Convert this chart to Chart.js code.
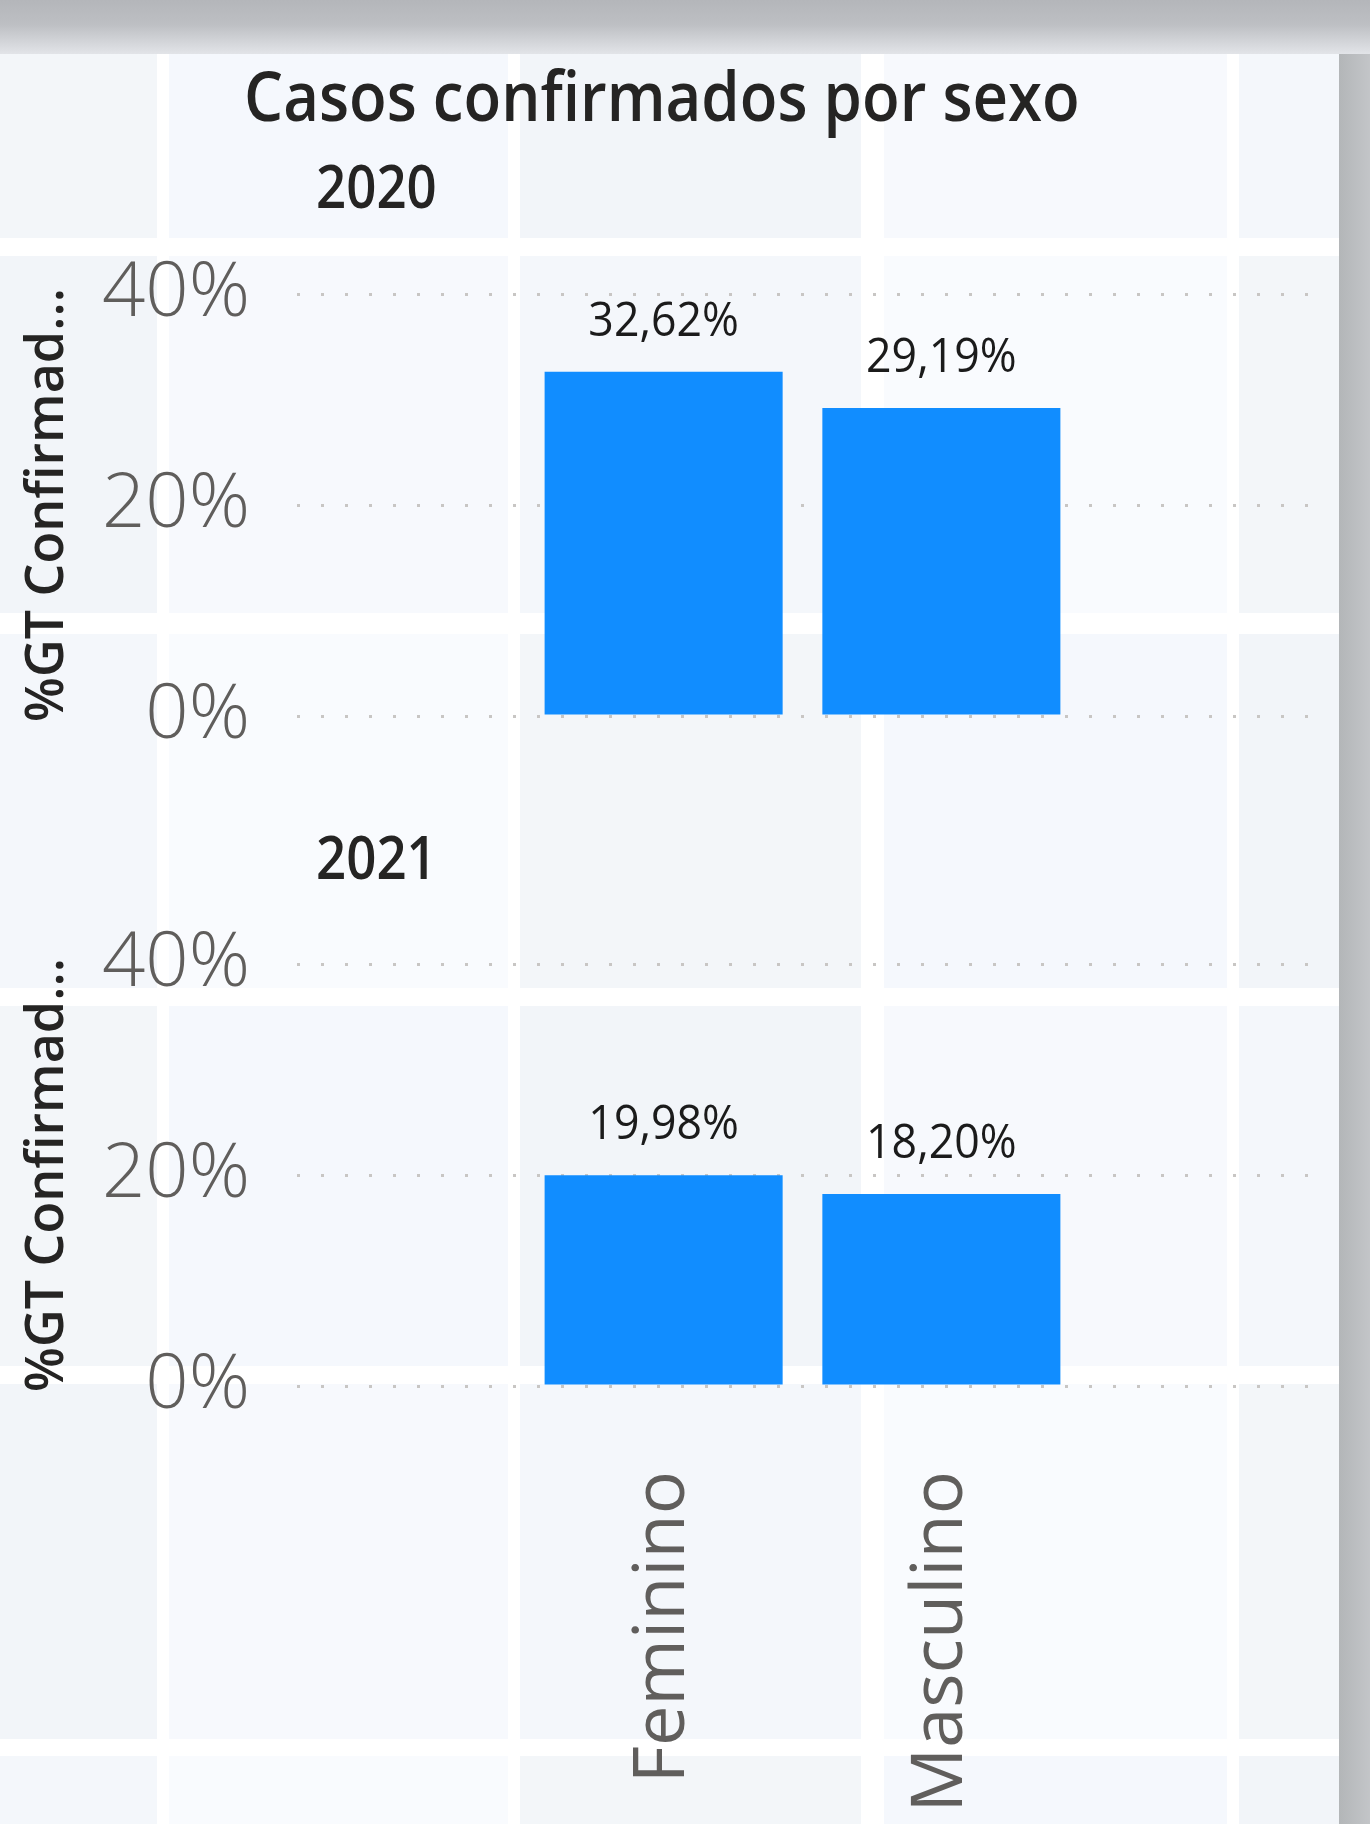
<!DOCTYPE html>
<html>
<head>
<meta charset="utf-8">
<script src="https://cdn.jsdelivr.net/npm/chart.js@4.4.1/dist/chart.umd.min.js"></script>
<style>
  html, body { margin: 0; padding: 0; }
  body { width: 1370px; height: 1824px; position: relative; overflow: hidden; background: #ffffff; font-family: 'Open Sans', sans-serif; }
  .band { position: absolute; left: 0; top: 0; width: 1370px; height: 54px;
          background: linear-gradient(#b4b6ba 0%, #bdbfc3 45%, #e2e4e8 100%); }
  .shadow { position: absolute; left: 1339px; top: 54px; width: 31px; height: 1770px;
            background: linear-gradient(90deg, #b3b6b8, #c3c5c8); }
  .tile { position: absolute; }
  .title { position: absolute; left: 244px; top: 60px; font-family: 'Open Sans', sans-serif; font-weight: 600; font-size: 69px; color: #252423; white-space: nowrap; line-height: 1; transform: scaleX(0.895); transform-origin: 0 0; }
  .year { position: absolute; left: 316px; font-family: 'Open Sans', sans-serif; font-weight: 600; font-size: 60px; color: #252423; line-height: 1; transform: scaleX(0.88); transform-origin: 0 0; }
  .chartbox { position: absolute; left: 0; width: 1339px; }
</style>
</head>
<body>
<div class="band"></div>
<div id="tiles"></div>
<div class="shadow"></div>
<div class="title">Casos confirmados por sexo</div>
<div class="year" style="top:155px">2020</div>
<div class="year" style="top:826px">2021</div>
<div class="chartbox" style="top:194px;height:622px"><canvas id="c2020"></canvas></div>
<div class="chartbox" style="top:864px;height:960px"><canvas id="c2021"></canvas></div>
<script>
// ---- data ----
const categories = ['Feminino', 'Masculino'];
const values2020 = [32.62, 29.19];
const values2021 = [19.98, 18.20];
const yTicks = [0, 20, 40];
const yAxisTitle = '%GT Confirmad...';

// ---- background tiles (decorative) ----
(function () {
  const cols = [[0, 157], [169, 508], [520, 861], [884, 1227], [1239, 1339]];
  const rows = [[54, 238], [256, 613], [634, 988], [1006, 1366], [1384, 1739], [1756, 1824]];
  const palette = ['#f3f6f9', '#f5f8fd', '#f2f5f9', '#f7f9fd', '#f4f7fb', '#f9fbfe'];
  const host = document.getElementById('tiles');
  rows.forEach((r, ri) => cols.forEach((c, ci) => {
    const d = document.createElement('div');
    d.className = 'tile';
    d.style.left = c[0] + 'px'; d.style.top = r[0] + 'px';
    d.style.width = (c[1] - c[0]) + 'px'; d.style.height = (r[1] - r[0]) + 'px';
    d.style.background = palette[(ri * 2 + ci) % palette.length];
    host.appendChild(d);
  }));
})();

const BLUE = '#118DFF';
const TICK_GRAY = '#605E5C';
const GRID_GRAY = '#C8C6C4';

const valueLabels = {
  id: 'valueLabels',
  afterDatasetsDraw(chart) {
    const ctx = chart.ctx;
    const meta = chart.getDatasetMeta(0);
    const ds = chart.data.datasets[0];
    meta.data.forEach((bar, i) => {
      const v = ds.data[i].y;
      const txt = v.toFixed(2).replace('.', ',') + '%';
      ctx.save();
      ctx.font = "400 48px 'Open Sans', sans-serif";
      ctx.fillStyle = '#1b1b1b';
      ctx.textAlign = 'center';
      ctx.textBaseline = 'middle';
      ctx.translate(bar.x, bar.y - 50);
      ctx.scale(0.93, 1);
      ctx.fillText(txt, 0, 0);
      ctx.restore();
    });
  }
};

function makeChart(id, values, showX) {
  return new Chart(document.getElementById(id), {
    type: 'bar',
    data: {
      datasets: [{
        data: categories.map((c, i) => ({ x: i, y: values[i] })),
        backgroundColor: BLUE,
        barPercentage: 0.857,
        categoryPercentage: 1.0,
        borderWidth: 0
      }]
    },
    options: {
      responsive: true,
      maintainAspectRatio: false,
      animation: false,
      layout: { padding: { top: 100, right: 31, bottom: showX ? 0 : 100, left: 0 } },
      plugins: { legend: { display: false }, tooltip: { enabled: false } },
      scales: {
        x: {
          type: 'linear',
          min: -1.32,
          max: 2.32,
          offset: false,
          display: showX,
          grid: { display: false, drawTicks: false },
          border: { display: false },
          afterBuildTicks: (scale) => { scale.ticks = categories.map((c, i) => ({ value: i })); },
          afterFit: (scale) => { if (showX) scale.height = 438; },
          ticks: {
            autoSkip: false,
            minRotation: 90,
            maxRotation: 90,
            padding: 85,
            color: TICK_GRAY,
            font: { family: "'Open Sans', sans-serif", size: 72, weight: 400 },
            callback: (v) => categories[v] ?? ''
          }
        },
        y: {
          min: 0,
          max: 40,
          afterBuildTicks: (scale) => { scale.ticks = yTicks.map(v => ({ value: v })); },
          afterFit: (scale) => { scale.width = 297; },
          grid: {
            color: GRID_GRAY,
            lineWidth: 3,
            drawTicks: false
          },
          border: { display: false, dash: [3, 21] },
          ticks: {
            padding: 47,
            color: TICK_GRAY,
            font: { family: "'Open Sans', sans-serif", size: 76, weight: 300 },
            callback: (v) => v + '%'
          },
          title: {
            display: true,
            text: yAxisTitle,
            color: '#252423',
            padding: { top: 17, bottom: 0 },
            font: { family: "'Open Sans', sans-serif", size: 52, weight: 600 }
          }
        }
      }
    },
    plugins: [valueLabels]
  });
}

makeChart('c2020', values2020, false);
makeChart('c2021', values2021, true);
</script>
</body>
</html>
